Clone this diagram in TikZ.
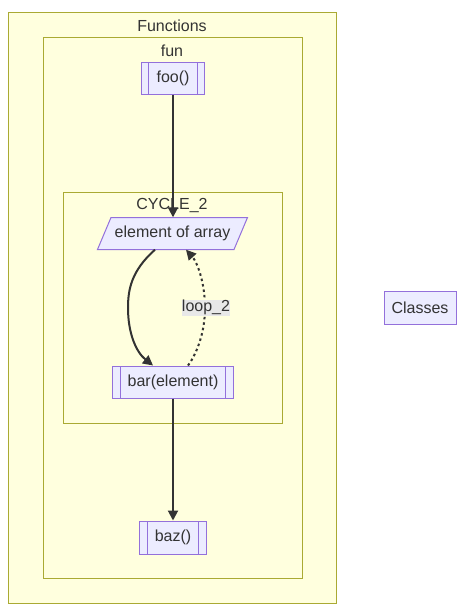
\documentclass[tikz,border=0pt]{standalone}
\usepackage{fontspec}
\setmainfont{Liberation Sans}
\usetikzlibrary{arrows.meta}
\definecolor{clfill}{HTML}{FFFFDE}
\definecolor{clstroke}{HTML}{AAAA33}
\definecolor{ndfill}{HTML}{ECECFF}
\definecolor{ndstroke}{HTML}{9370DB}
\definecolor{txt}{HTML}{333333}
\definecolor{lblbg}{HTML}{E8E8E8}
\tikzset{
  cluster/.style={draw=clstroke, fill=clfill, line width=1pt},
  cltitle/.style={text=txt, font=\fontsize{16}{19}\selectfont, inner sep=0pt, anchor=center},
  nd/.style={draw=ndstroke, fill=ndfill, line width=1pt, text=txt, font=\fontsize{16}{19}\selectfont, minimum height=32pt, inner sep=0pt},
  subr/.style={nd, path picture={
     \draw[ndstroke, line width=1pt] ([xshift=#1]path picture bounding box.north west) -- ([xshift=#1]path picture bounding box.south west);
     \draw[ndstroke, line width=1pt] ([xshift=-#1]path picture bounding box.north east) -- ([xshift=-#1]path picture bounding box.south east);}},
  edge/.style={draw=txt, line width=2pt, -{Triangle[length=10pt, width=10pt]}},
  lbl/.style={fill=lblbg, text=txt, font=\fontsize{16}{19}\selectfont, inner sep=0pt, minimum height=16pt}
}
\begin{document}
\begin{tikzpicture}[x=1pt, y=-1pt]
\useasboundingbox (0,0) rectangle (471,616);
\fill[white] (0,0) rectangle (471,616);
% clusters
\draw[cluster] (8,12) rectangle (336,603);
\node[cltitle] (tFunctions) at (172,25.5) {Functions};
\draw[cluster] (43,37) rectangle (302,578);
\node[cltitle] (tfun) at (172,50.5) {fun};
\draw[cluster] (63,192) rectangle (282,423);
\node[cltitle] (tcycle) at (172,205.5) {CYCLE\_2};
% nodes
\node[subr=7pt, minimum width=63pt] (foo) at (173,78) {foo()};
\node[inner sep=0pt, minimum width=120pt, minimum height=32pt] (elem) at (173,233.5) {};
\draw[draw=ndstroke, fill=ndfill, line width=1pt] (111,217.5) -- (247.5,217.5) -- (234,249.5) -- (97.5,249.5) -- cycle;
\node[text=txt, font=\fontsize{16}{19}\selectfont, inner sep=0pt] (elemtxt) at (172.5,233.5) {element of array};
\node[subr=8pt, minimum width=121pt] (bar) at (173,382) {bar(element)};
\node[subr=8pt, minimum width=67pt, minimum height=33pt] (baz) at (173,537.5) {baz()};
\node[nd, minimum width=72pt, minimum height=33pt] (classes) at (420,307.5) {Classes};
% edges
\draw[edge] (foo.south) -- (foo.south |- elem.north);
\draw[edge] ([xshift=-18pt]elem.south) .. controls (131,271) and (128,290) .. (128,308) .. controls (128,333) and (136,352) .. ([xshift=-20pt]bar.north);
\draw[edge, dash pattern=on 2.5pt off 3pt] ([xshift=15pt]bar.north) .. controls (198,352) and (205,330) .. (205,308) .. controls (205,282) and (197,262) .. ([xshift=13pt]elem.south);
\node[lbl] (loop) at (206,307.5) {loop\_2};
\draw[edge] (bar.south) -- (baz.north);
\end{tikzpicture}
\end{document}
